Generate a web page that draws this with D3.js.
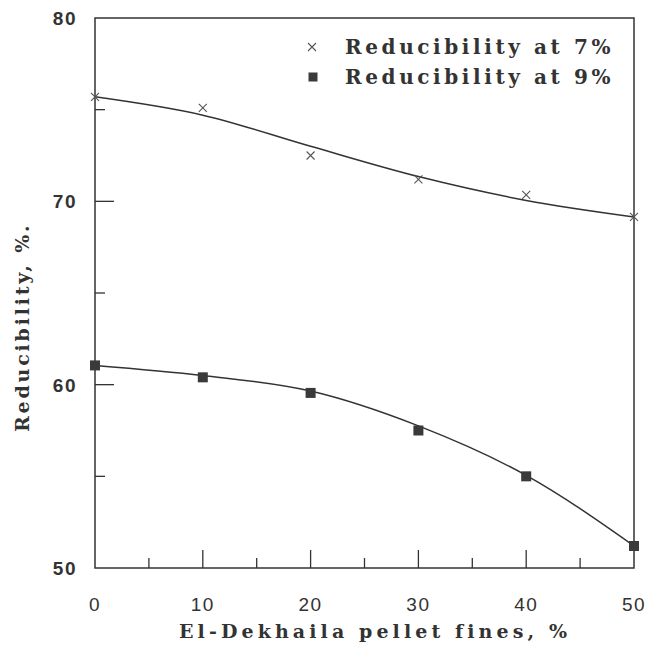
<!DOCTYPE html>
<html lang="en">
<head>
    <meta charset="UTF-8">
    <title>Reducibility vs El-Dekhaila pellet fines</title>
    <script src="https://d3js.org/d3.v7.min.js"></script>
    <style>
        body { margin: 0; background: #fff; }
        svg { display: block; }
    </style>
</head>
<body>
    <svg></svg>
    <script>
        // data
        const fines = [0, 10, 20, 30, 40, 50];
        const red7 = [75.7, 75.1, 72.5, 71.2, 70.35, 69.15];
        const red9 = [61.05, 60.4, 59.55, 57.5, 55.0, 51.2];
        // fitted trend lines as drawn in the figure
        const fit7 = [75.7, 74.7, 73.0, 71.35, 70.05, 69.15];
        const fit9 = [61.05, 60.5, 59.65, 57.75, 55.05, 51.2];
        const xTicks = [0, 10, 20, 30, 40, 50];
        const xMinor = [5, 15, 25, 35, 45];
        const yTicks = [50, 60, 70, 80];
        const yMinor = [55, 65, 75];
        const legendLabels = ["Reducibility at 7%", "Reducibility at 9%"];

        const W = 645, H = 645;
        const margin = { top: 18, right: 11, bottom: 77, left: 95 };
        const width = W - margin.left - margin.right;
        const height = H - margin.top - margin.bottom;
        const ink = "#333";
        const serif = "'DejaVu Serif', serif";

        const root = d3.select("svg")
            .attr("width", W)
            .attr("height", H);
        const svg = root.append("g")
            .attr("transform", `translate(${margin.left},${margin.top})`);

        const x = d3.scaleLinear().domain([0, 50]).range([0, width]);
        const y = d3.scaleLinear().domain([50, 80]).range([height, 0]);

        // frame
        svg.append("rect")
            .attr("width", width)
            .attr("height", height)
            .attr("fill", "none")
            .attr("stroke", ink)
            .attr("stroke-width", 1.5);

        // x axis ticks (inward)
        const xAxis = svg.append("g").attr("transform", `translate(0,${height})`);
        xAxis.selectAll(".major").data(xTicks.filter(d => d > 0 && d < 50)).enter()
            .append("line")
            .attr("x1", d => x(d)).attr("x2", d => x(d))
            .attr("y1", 0).attr("y2", -18)
            .attr("stroke", ink).attr("stroke-width", 1.3);
        xAxis.selectAll(".minor").data(xMinor).enter()
            .append("line")
            .attr("x1", d => x(d)).attr("x2", d => x(d))
            .attr("y1", 0).attr("y2", -10)
            .attr("stroke", ink).attr("stroke-width", 1.3);
        xAxis.selectAll("text").data(xTicks).enter()
            .append("text")
            .attr("x", d => x(d))
            .attr("y", 43)
            .attr("text-anchor", "middle")
            .attr("font-family", "'Liberation Sans', Arial, sans-serif")
            .attr("font-size", 19)
            .attr("letter-spacing", 1.5)
            .attr("fill", ink)
            .text(d => d);

        // y axis ticks (inward)
        const yAxis = svg.append("g");
        yAxis.selectAll(".major").data(yTicks.filter(d => d > 50 && d < 80)).enter()
            .append("line")
            .attr("x1", 0).attr("x2", 19)
            .attr("y1", d => y(d)).attr("y2", d => y(d))
            .attr("stroke", ink).attr("stroke-width", 1.3);
        yAxis.selectAll(".minor").data(yMinor).enter()
            .append("line")
            .attr("x1", 0).attr("x2", 10)
            .attr("y1", d => y(d)).attr("y2", d => y(d))
            .attr("stroke", ink).attr("stroke-width", 1.3);
        yAxis.selectAll("text").data(yTicks).enter()
            .append("text")
            .attr("x", -18)
            .attr("y", d => y(d))
            .attr("dy", "0.36em")
            .attr("text-anchor", "end")
            .attr("font-family", "'Liberation Sans', Arial, sans-serif")
            .attr("font-weight", "bold")
            .attr("font-size", 19)
            .attr("letter-spacing", 1.5)
            .attr("fill", ink)
            .text(d => d);

        // axis titles (page coordinates)
        root.append("text")
            .attr("x", 179)
            .attr("y", 638)
            .attr("font-family", serif)
            .attr("font-weight", "bold")
            .attr("font-size", 19)
            .attr("letter-spacing", 4.1)
            .attr("fill", ink)
            .text("El-Dekhaila pellet fines, %");

        root.append("text")
            .attr("transform", "translate(29,432) rotate(-90)")
            .attr("font-family", serif)
            .attr("font-weight", "bold")
            .attr("font-size", 19)
            .attr("letter-spacing", 2.8)
            .attr("fill", ink)
            .text("Reducibility, %.");

        // fitted curves
        const line = d3.line()
            .x((d, i) => x(fines[i]))
            .y(d => y(d))
            .curve(d3.curveMonotoneX);

        [fit7, fit9].forEach(f => {
            svg.append("path")
                .attr("d", line(f))
                .attr("fill", "none")
                .attr("stroke", ink)
                .attr("stroke-width", 1.5);
        });

        // markers
        const cross = (g, cx, cy, s) => {
            g.append("path")
                .attr("d", `M${cx - s},${cy - s}L${cx + s},${cy + s}M${cx - s},${cy + s}L${cx + s},${cy - s}`)
                .attr("stroke", "#555")
                .attr("stroke-width", 1.1)
                .attr("fill", "none");
        };
        const square = (g, cx, cy, s) => {
            g.append("rect")
                .attr("x", cx - s).attr("y", cy - s)
                .attr("width", 2 * s).attr("height", 2 * s)
                .attr("fill", "#3a3a3a");
        };

        red7.forEach((v, i) => cross(svg, x(fines[i]), y(v), 4));
        red9.forEach((v, i) => square(svg, x(fines[i]), y(v), 5));

        // legend
        const legend = root.append("g").attr("transform", "translate(312, 47)");
        cross(legend, 0, 0, 4);
        square(legend, 1, 30, 4.5);
        legendLabels.forEach((lab, i) => {
            legend.append("text")
                .attr("x", 33)
                .attr("y", i * 30)
                .attr("dy", "0.35em")
                .attr("font-family", serif)
                .attr("font-weight", "bold")
                .attr("font-size", 20)
                .attr("letter-spacing", 3.6)
                .attr("fill", ink)
                .text(lab);
        });
    </script>
</body>
</html>
